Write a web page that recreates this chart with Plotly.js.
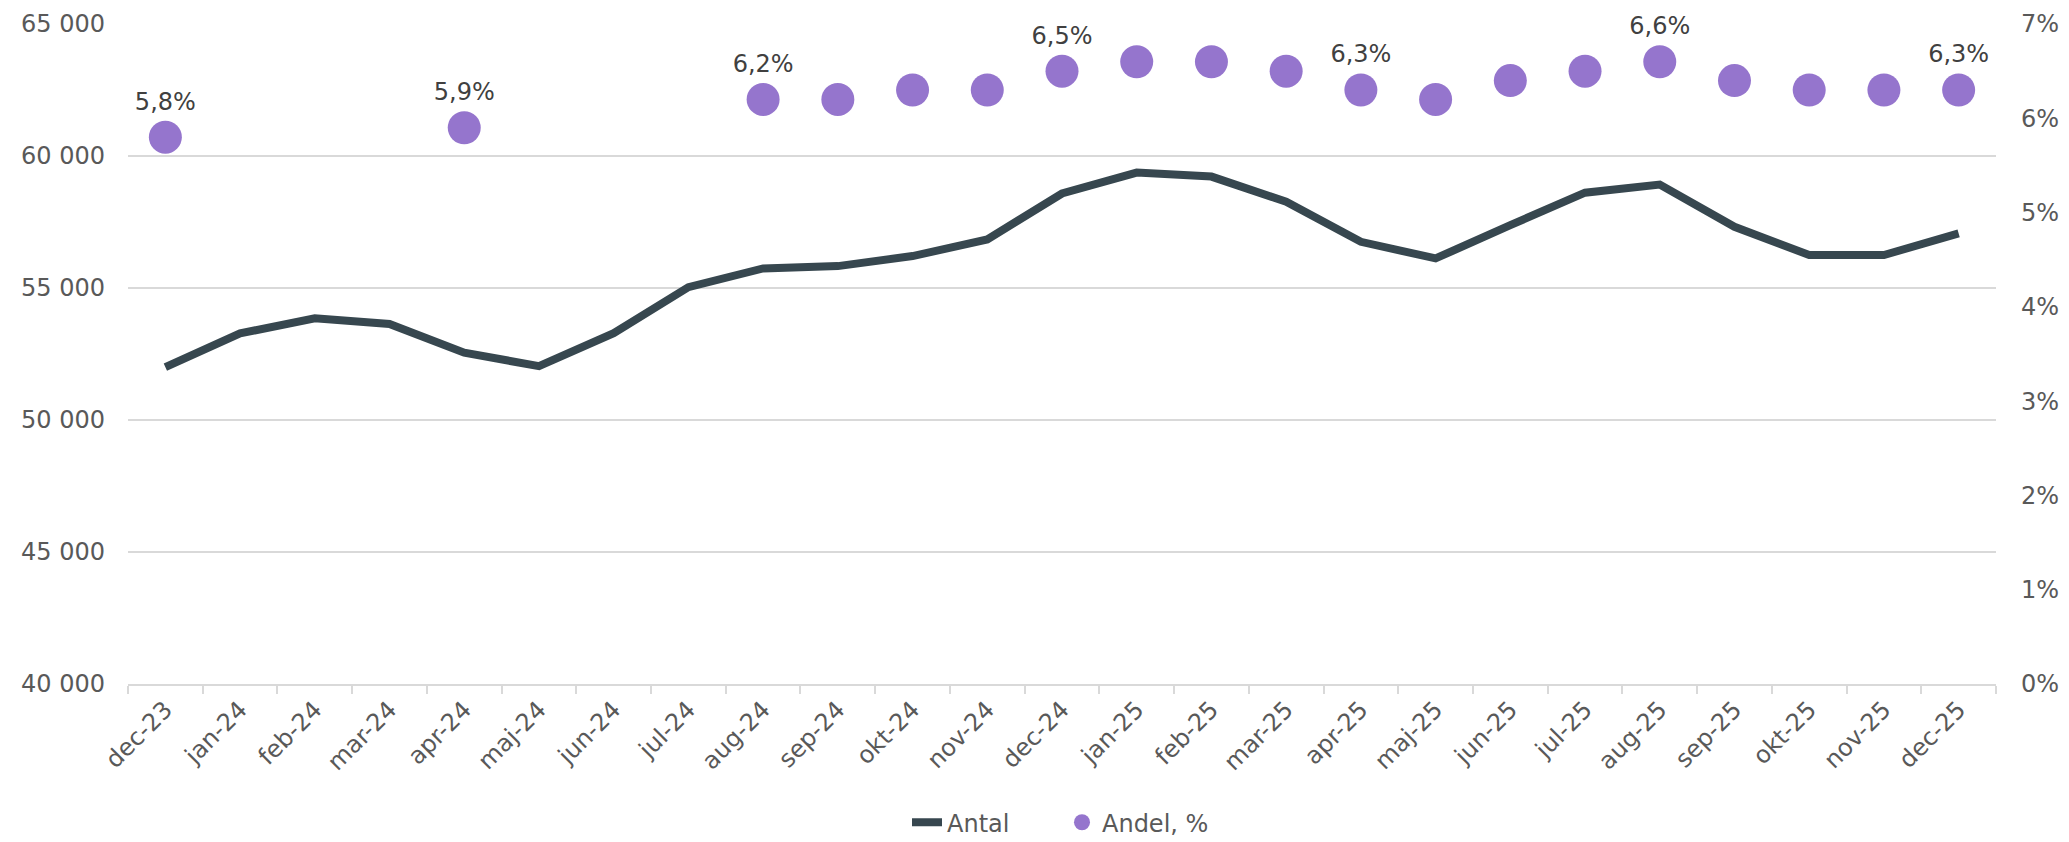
<!DOCTYPE html>
<html>
<head>
<meta charset="utf-8">
<script src="https://cdn.plot.ly/plotly-3.0.1.min.js"></script>
<style>
html,body{margin:0;padding:0;background:#fff;}
#chart{width:2069px;height:842px;}
</style>
</head>
<body>
<div id="chart"></div>
<script>
const months = ["dec-23","jan-24","feb-24","mar-24","apr-24","maj-24","jun-24","jul-24","aug-24","sep-24","okt-24","nov-24","dec-24","jan-25","feb-25","mar-25","apr-25","maj-25","jun-25","jul-25","aug-25","sep-25","okt-25","nov-25","dec-25"];
const antal = [52000,53280,53850,53640,52550,52040,53290,55030,55740,55830,56210,56840,58580,59370,59220,58270,56750,56120,57380,58610,58920,57320,56250,56250,57070];
const andel = [5.8,null,null,null,5.9,null,null,null,6.2,6.2,6.3,6.3,6.5,6.6,6.6,6.5,6.3,6.2,6.4,6.5,6.6,6.4,6.3,6.3,6.3];
const labelledMonths = ["dec-23","apr-24","aug-24","dec-24","apr-25","aug-25","dec-25"];

const andelText = andel.map((v,i) => (labelledMonths.includes(months[i]) && v !== null) ? v.toFixed(1).replace('.', ',') + '%' : '');

const font = "DejaVu Sans, Verdana, sans-serif";
const grey = "#595959";

const traces = [
  {
    x: months, y: antal, name: "Antal", type: "scatter", mode: "lines",
    line: {color: "#37474F", width: 8},
    yaxis: "y", hoverinfo: "x+y"
  },
  {
    x: months, y: andel, name: "Andel, %", type: "scatter", mode: "markers+text",
    marker: {color: "#9575CD", size: 33},
    text: andelText, textposition: "top center",
    textfont: {family: font, size: 24, color: "#404040"},
    yaxis: "y2", cliponaxis: false
  }
];

const layout = {
  width: 2069, height: 842,
  margin: {l: 128, r: 73, t: 24, b: 158},
  paper_bgcolor: "#fff", plot_bgcolor: "#fff",
  separators: ", ",
  font: {family: font, size: 24, color: grey},
  showlegend: true,
  legend: {orientation: "h", x: 0.5, xanchor: "center", xref: "paper",
           y: 0.023, yref: "container", yanchor: "middle",
           font: {family: font, size: 24, color: grey}, entrywidth: 110, entrywidthmode: "pixels"},
  xaxis: {
    type: "category", range: [-0.5, 24.5], tickson: "boundaries",
    ticks: "outside", ticklen: 8, tickcolor: "#d9d9d9", tickwidth: 2,
    showline: true, linecolor: "#d9d9d9", linewidth: 2,
    showgrid: false, tickangle: -45, automargin: false,
    tickfont: {family: font, size: 24, color: grey}
  },
  yaxis: {
    range: [40000, 65000], dtick: 5000, tick0: 40000,
    showgrid: true, gridcolor: "#d9d9d9", gridwidth: 2,
    zeroline: false, showline: false, ticks: "", automargin: false,
    tickformat: ",d", ticklabelstandoff: 22,
    tickfont: {family: font, size: 24, color: grey}
  },
  yaxis2: {
    overlaying: "y", side: "right", range: [0, 7], dtick: 1, tick0: 0,
    showgrid: false, zeroline: false, showline: false, ticks: "", automargin: false,
    ticksuffix: "%", ticklabelstandoff: 24,
    tickfont: {family: font, size: 24, color: grey}
  }
};

Plotly.newPlot("chart", traces, layout, {displayModeBar: false, staticPlot: true});
</script>
</body>
</html>
